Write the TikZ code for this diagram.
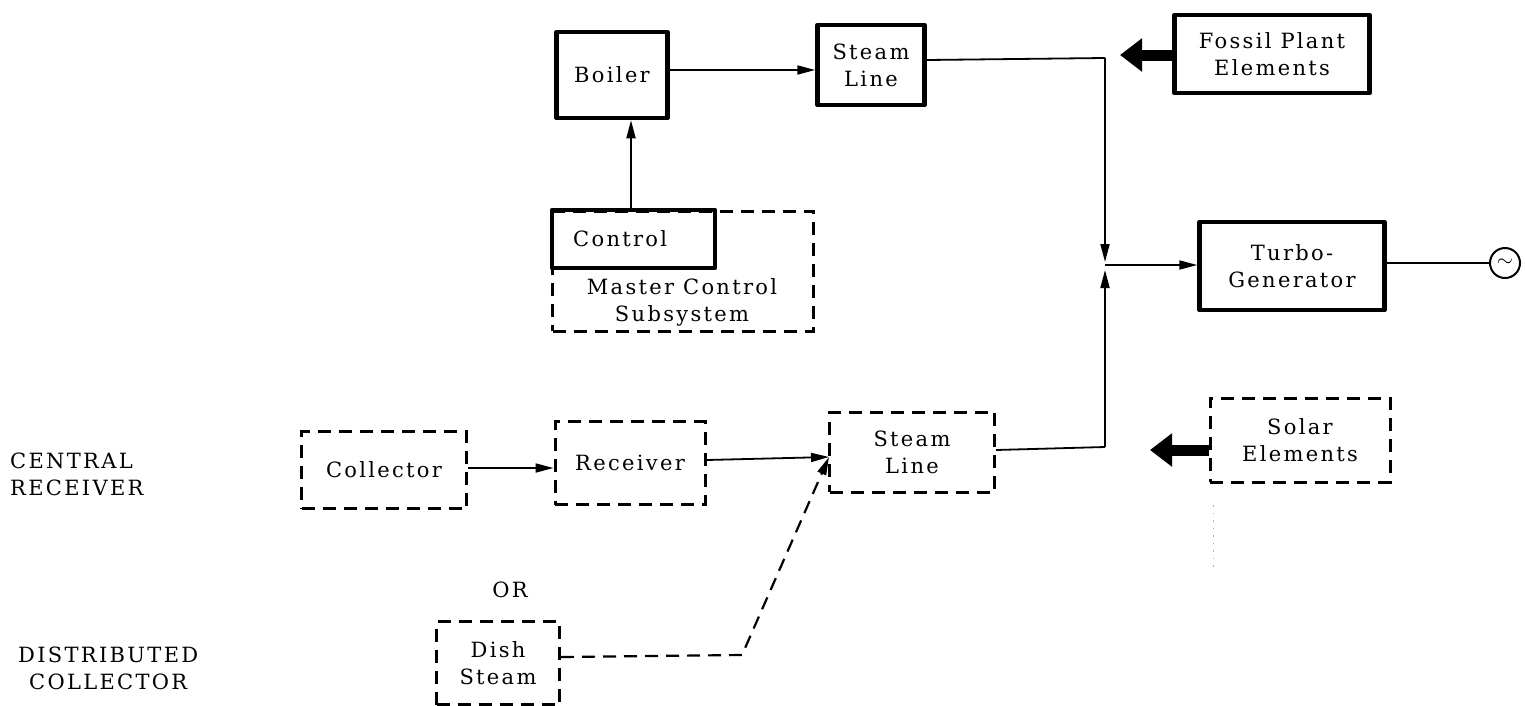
\documentclass[tikz,border=0pt]{standalone}
\usepackage{fontspec}
\setmainfont{DejaVu Serif}[LetterSpace=11]
\usetikzlibrary{arrows.meta}
\begin{document}
\begin{tikzpicture}[x=1pt,y=-1pt,
  txt/.style={font=\fontsize{21}{27}\selectfont, align=center, inner sep=0pt},
  solidbox/.style={draw, line width=4.5pt, line join=round},
  dashbox/.style={draw, line width=3pt, dash pattern=on 13pt off 8pt},
  conn/.style={line width=1.8pt, -{Triangle[length=18pt,width=9pt]}},
  dconn/.style={line width=2.2pt, dash pattern=on 13pt off 8pt, -{Triangle[length=18pt,width=9pt]}},
  fat/.style={line width=11pt, -{Triangle[length=22pt,width=32pt]}}]
\useasboundingbox (0,0) rectangle (1525,705);
% solid boxes
\node[solidbox, minimum width=111pt, minimum height=86pt] (boiler) at (612,75) {};
\node[txt] at (boiler) {Boiler};
\node[solidbox, minimum width=107pt, minimum height=80pt] (sl1) at (871,65) {};
\node[txt] at (sl1) {Steam\\Line};
\node[solidbox, minimum width=195pt, minimum height=78pt] (fossil) at (1272,54) {};
\node[txt] at (fossil) {Fossil Plant\\Elements};
\node[solidbox, minimum width=185pt, minimum height=88pt] (turbo) at (1292,266) {};
\node[txt] at (turbo) {Turbo-\\Generator};
\node[draw, circle, line width=2pt, minimum size=30pt, inner sep=0pt] (gen) at (1505,263) {};
\node[font=\fontsize{20}{20}\selectfont, inner sep=0pt] at (gen) {$\sim$};
% master control
\node[dashbox, minimum width=261pt, minimum height=120pt] (master) at (683,271) {};
\node[txt] at (682,302) {Master Control\\Subsystem};
\node[solidbox, minimum width=163pt, minimum height=58pt] (control) at (633.5,239) {};
\node[txt, anchor=west] at (573,239) {Control};
% lower dashed boxes
\node[dashbox, minimum width=165pt, minimum height=77pt] (coll) at (384,470) {};
\node[txt] at (coll) {Collector};
\node[dashbox, minimum width=150pt, minimum height=83pt] (recv) at (630,463) {};
\node[txt] at (recv) {Receiver};
\node[dashbox, minimum width=165pt, minimum height=80pt] (sl2) at (912,452) {};
\node[txt] at (sl2) {Steam\\Line};
\node[dashbox, minimum width=180pt, minimum height=84pt] (solar) at (1300,440) {};
\node[txt] at (solar) {Solar\\Elements};
\node[dashbox, minimum width=123pt, minimum height=83pt] (dish) at (498,663) {};
\node[txt] at (dish) {Dish\\Steam};
% side labels
\node[txt, align=left, anchor=west] (cr) at (10,474) {CENTRAL\\RECEIVER};
\node[txt] (or) at (510,590) {OR};
\node[txt, anchor=west] (dc) at (18,668) {DISTRIBUTED\\COLLECTOR};
% junction
\coordinate (j) at (1105,265);
\coordinate (jt) at (1105,262);
\coordinate (jb) at (1105,270);
% connectors
\draw[conn] (boiler.east |- 0,70) -- (sl1.west |- 0,70);
\draw[conn] (control.north -| 631,0) -- (boiler.south -| 631,0);
\draw[line width=1.8pt] (sl1.east |- 0,60) -- (1105,58) coordinate (c1);
\draw[conn] (c1) -- (jt);
\draw[conn] (j) -- (turbo.west |- j);
\draw[line width=2pt] (turbo.east |- gen) -- (gen.west);
\draw[line width=1.8pt] (sl2.east |- 0,450) -- (1105,447) coordinate (c2);
\draw[conn] (c2) -- (jb);
\draw[conn] (coll.east |- 0,468) -- (recv.west |- 0,468);
\coordinate (sin) at (829,457);
\draw[conn] (recv.east |- 0,460) -- (sin);
\coordinate (bend) at (742,655);
\draw[dconn] (dish.east |- 0,657) -- (bend) -- (sin);
% thick arrows
\draw[fat] (fossil.west |- 0,55) -- (1120,55);
\draw[fat] (solar.west |- 0,450) -- (1150,450);
% faint dots
\draw[gray!60, line width=1pt, dash pattern=on 1.5pt off 6pt] (1213,505) -- (1213,568);
\end{tikzpicture}
\end{document}
